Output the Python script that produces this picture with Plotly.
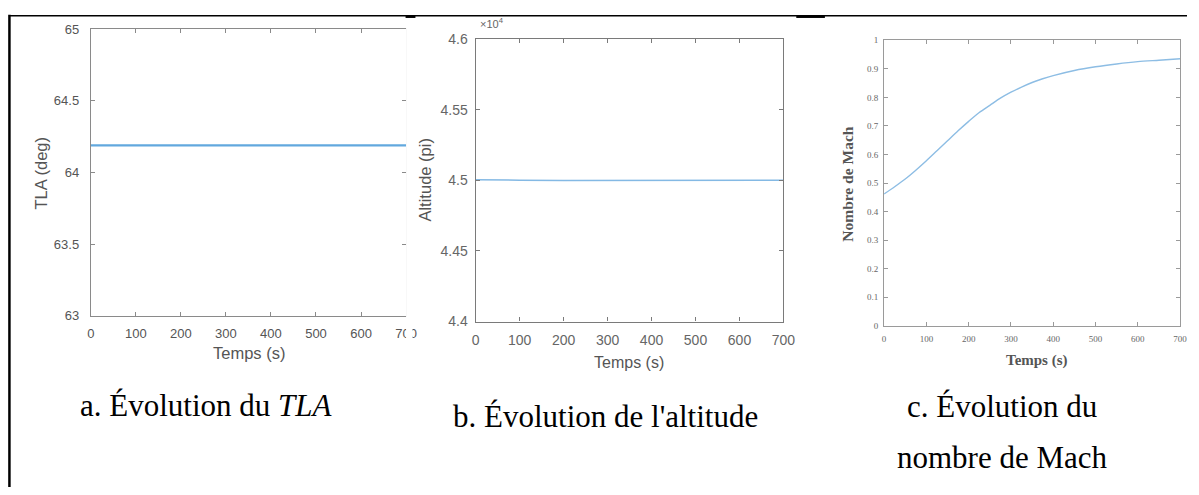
import plotly.graph_objects as go

# ---- data -------------------------------------------------------------
time_s = [0, 100, 200, 300, 400, 500, 600, 700]
tla_deg = [64.19, 64.19, 64.19, 64.19, 64.19, 64.19, 64.19, 64.19]

alt_time_s = [0, 25, 50, 100, 200, 300, 400, 500, 600, 700]
altitude_ft = [45004, 45002, 45000, 45000, 44999, 45000, 45001, 45000, 45000, 45000]

mach_time_s = [0, 25, 50, 75, 100, 125, 150, 175, 200, 225, 250, 275, 300,
               325, 350, 375, 400, 450, 500, 550, 600, 650, 700]
mach = [0.462, 0.487, 0.514, 0.545, 0.578, 0.613, 0.648, 0.683, 0.716, 0.747,
        0.772, 0.797, 0.818, 0.836, 0.852, 0.865, 0.876, 0.894, 0.907, 0.917,
        0.925, 0.930, 0.935]

x_ticks = [0, 100, 200, 300, 400, 500, 600, 700]
tla_ticks = [63, 63.5, 64, 64.5, 65]
alt_ticks = [4.4, 4.45, 4.5, 4.55, 4.6]
mach_ticks = [0, 0.1, 0.2, 0.3, 0.4, 0.5, 0.6, 0.7, 0.8, 0.9, 1]

captions = ["a. Évolution du <i>TLA</i>", "b. Évolution de l'altitude",
            "c. Évolution du", "nombre de Mach"]

# ---- page geometry helpers (pixels -> paper fraction) -----------------
W, H = 1199, 495


def PX(x):
    return x / W


def PY(y):
    return 1 - y / H


SANS = "Liberation Sans, Arial, sans-serif"
SERIF = "Liberation Serif, Times New Roman, serif"

fig = go.Figure()

fig.add_trace(go.Scatter(x=time_s, y=tla_deg, xaxis="x", yaxis="y",
                         mode="lines", line=dict(color="#62a8de", width=2.2),
                         showlegend=False))
fig.add_trace(go.Scatter(x=alt_time_s, y=[a / 1e4 for a in altitude_ft],
                         xaxis="x2", yaxis="y2", mode="lines",
                         line=dict(color="#84b9e4", width=1.5),
                         showlegend=False))
fig.add_trace(go.Scatter(x=mach_time_s, y=mach, xaxis="x3", yaxis="y3",
                         mode="lines", line=dict(color="#8dbde4", width=1.4,
                                                 shape="spline", smoothing=0.8),
                         showlegend=False))


def axis_style(color, font, size, fcolor, standoff):
    return dict(showline=True, linecolor=color, linewidth=1.2, mirror="ticks",
                ticks="inside", ticklen=4, tickcolor=color, showgrid=False,
                zeroline=False, tickfont=dict(family=font, size=size, color=fcolor),
                ticklabelstandoff=standoff, fixedrange=True)


layout = dict(
    width=W, height=H, margin=dict(l=0, r=0, t=0, b=0),
    paper_bgcolor="white", plot_bgcolor="white",
    xaxis=dict(domain=[PX(88), PX(407.5)], anchor="y", range=[0, 700],
               tickvals=x_ticks, **axis_style("#8a8a8a", SANS, 13, "#555", 6)),
    yaxis=dict(domain=[PY(318), PY(22)], anchor="x", range=[63, 65],
               tickvals=tla_ticks, **axis_style("#8a8a8a", SANS, 13, "#555", 8)),
    xaxis2=dict(domain=[PX(478), PX(790)], anchor="y2", range=[0, 700],
                tickvals=x_ticks, **axis_style("#7a7a7a", SANS, 14, "#666", 6)),
    yaxis2=dict(domain=[PY(324), PY(32)], anchor="x2", range=[4.4, 4.6],
                tickvals=alt_ticks, **axis_style("#7a7a7a", SANS, 14, "#666", 4)),
    xaxis3=dict(domain=[PX(892), PX(1192)], anchor="y3", range=[0, 700],
                tickvals=x_ticks, **axis_style("#9a9a9a", SERIF, 9, "#666", 4)),
    yaxis3=dict(domain=[PY(328.5), PY(33.3)], anchor="x3", range=[0, 1],
                tickvals=mach_ticks, **axis_style("#9a9a9a", SERIF, 9, "#666", 3)),
)
fig.update_layout(**layout)

ann = []


def text(x, y, s, size, font, color, angle=0, xanchor="center"):
    ann.append(dict(x=PX(x), y=PY(y), xref="paper", yref="paper", text=s,
                    showarrow=False, textangle=angle, xanchor=xanchor,
                    yanchor="middle", font=dict(family=font, size=size, color=color)))


# axis titles
text(37.5, 171, "TLA (deg)", 16.5, SANS, "#555", -90)
text(248, 357, "Temps (s)", 16.5, SANS, "#555")
text(427, 178, "Altitude (pi)", 16.5, SANS, "#555", -90)
text(633, 366, "Temps (s)", 16, SANS, "#555")
text(480, 15, "×10<sup>4</sup>", 11, SANS, "#666", xanchor="left")
text(855, 182, "<b>Nombre de Mach</b>", 15.5, SERIF, "#555", -90)
text(1047, 364, "<b>Temps (s)</b>", 15, SERIF, "#555")

# captions under each panel
text(205, 411, captions[0], 31, SERIF, "black")
text(610, 422, captions[1], 31, SERIF, "black")
text(1012, 412, captions[2], 31, SERIF, "black")
text(1012, 465, captions[3], 31, SERIF, "black")
fig.update_layout(annotations=ann)

# table frame and the cut-off edge of the first panel
shapes = [
    dict(type="rect", xref="paper", yref="paper", x0=PX(407.5), x1=PX(414),
         y0=PY(380), y1=PY(12), fillcolor="white", line=dict(width=0),
         layer="above"),
    dict(type="line", xref="paper", yref="paper", x0=PX(5), x1=PX(1199),
         y0=PY(8), y1=PY(8), line=dict(color="black", width=1.5), layer="above"),
    dict(type="line", xref="paper", yref="paper", x0=PX(407), x1=PX(417),
         y0=PY(9), y1=PY(9), line=dict(color="black", width=2.5), layer="above"),
    dict(type="line", xref="paper", yref="paper", x0=PX(803), x1=PX(832),
         y0=PY(9), y1=PY(9), line=dict(color="black", width=2.5), layer="above"),
    dict(type="line", xref="paper", yref="paper", x0=PX(5.5), x1=PX(5.5),
         y0=PY(7), y1=PY(495), line=dict(color="black", width=2.5), layer="above"),
]
fig.update_layout(shapes=shapes)

fig.write_html("out.html", config=dict(displayModeBar=False))
